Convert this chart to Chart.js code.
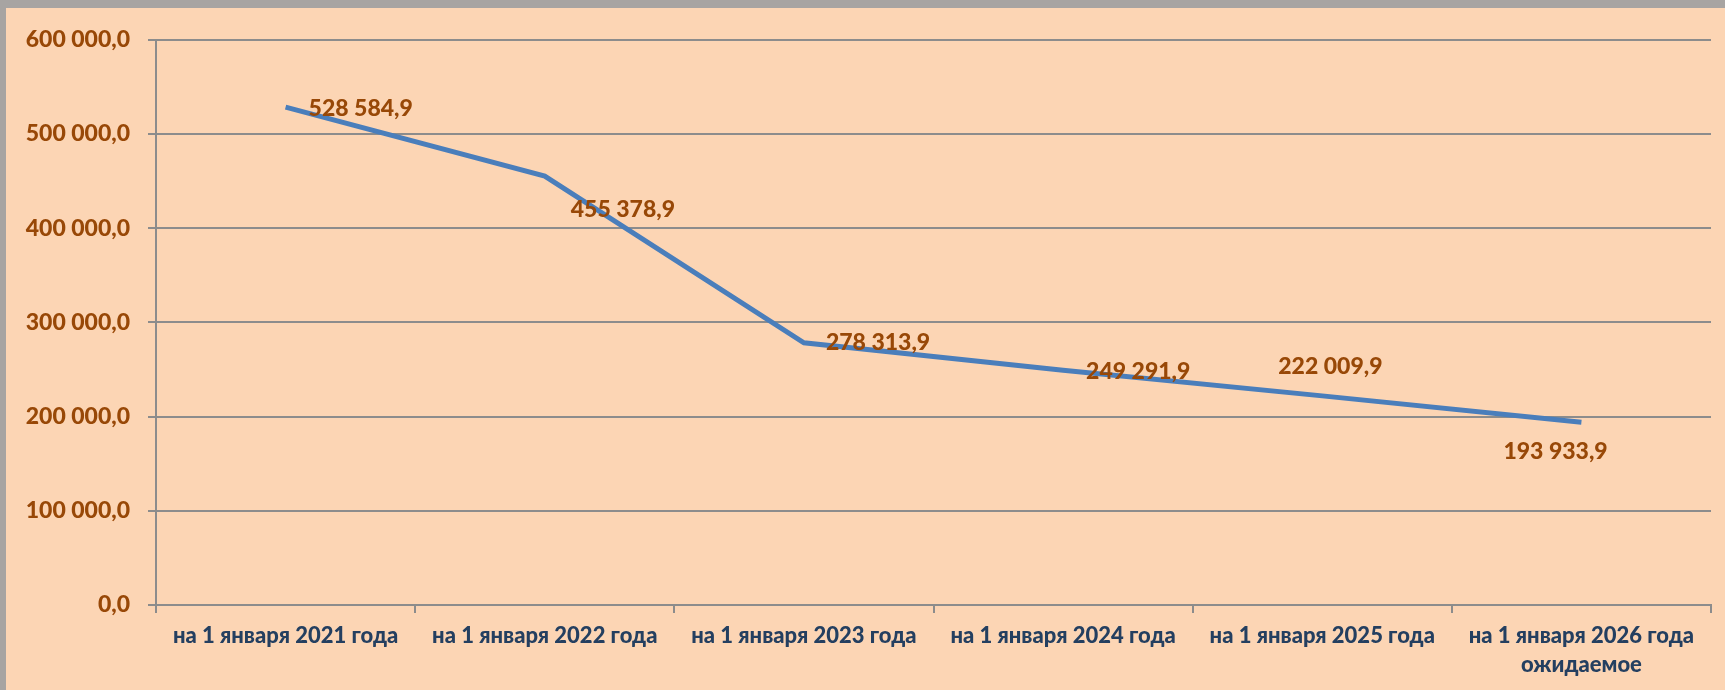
<!DOCTYPE html>
<html>
<head>
<meta charset="utf-8">
<script src="https://cdn.jsdelivr.net/npm/chart.js@4.4.1/dist/chart.umd.min.js"></script>
<style>
  html,body{margin:0;padding:0;width:1725px;height:690px;overflow:hidden;background:#a7a4a2;}
  #panel{position:absolute;left:6px;top:8px;width:1719px;height:682px;background:#fcd5b4;}
  #c{display:block;}
</style>
</head>
<body>
<div id="panel"><canvas id="c" width="1719" height="682"></canvas></div>
<script>
// data
const categories = [
  'на 1 января 2021 года',
  'на 1 января 2022 года',
  'на 1 января 2023 года',
  'на 1 января 2024 года',
  'на 1 января 2025 года',
  ['на 1 января 2026 года', 'ожидаемое']
];
const values = [528584.9, 455378.9, 278313.9, 249291.9, 222009.9, 193933.9];
const valueLabels = ['528 584,9', '455 378,9', '278 313,9', '249 291,9', '222 009,9', '193 933,9'];
const yMax = 600000, yStep = 100000;

// label placement like the excel source: [dx, dy] from the point
const labelOffset = [[23,2],[26,34],[22,0],[23,1],[-44,-29],[-78,29]];

function fmtTick(v){
  let s = Math.round(v).toString().replace(/\B(?=(\d{3})+(?!\d))/g, ' ');
  return s + ',0';
}

const labelPlugin = {
  id:'pointLabels',
  afterDatasetsDraw(chart){
    const ctx = chart.ctx;
    const meta = chart.getDatasetMeta(0);
    ctx.save();
    ctx.font = '900 23px Lato';
    ctx.fillStyle = '#984807';
    ctx.textBaseline = 'middle';
    ctx.textAlign = 'left';
    meta.data.forEach((pt, i) => {
      const o = labelOffset[i];
      ctx.fillText(valueLabels[i], pt.x + o[0], pt.y + o[1]);
    });
    ctx.restore();
  }
};

new Chart(document.getElementById('c'), {
  type:'line',
  data:{labels:categories, datasets:[{data:values, borderColor:'#4a7ebb', borderWidth:5, pointRadius:0, tension:0, fill:false}]},
  options:{
    responsive:false, animation:false,
    layout:{padding:{top:18, right:14, left:0, bottom:0}},
    plugins:{legend:{display:false}, tooltip:{enabled:false}},
    scales:{
      x:{
        offset:true,
        grid:{display:true, drawOnChartArea:false, drawTicks:true, tickLength:8, offset:true, color:'#8c8c8c', lineWidth:2},
        border:{display:true, color:'#8c8c8c', width:2},
        ticks:{color:'#243f60', font:{family:'Lato', size:22, weight:'900', lineHeight:1.3}, padding:9, maxRotation:0, autoSkip:false},
        afterFit(s){ s.height = 85; }
      },
      y:{
        min:0, max:yMax,
        grid:{color:'#8c8c8c', lineWidth:2, tickLength:8},
        border:{display:true, color:'#8c8c8c', width:2},
        ticks:{stepSize:yStep, color:'#984807', font:{family:'Lato', size:23, weight:'900'}, padding:18, callback:v=>fmtTick(v)},
        afterFit(s){ s.width = 150; }
      }
    }
  },
  plugins:[labelPlugin]
});
</script>
</body>
</html>
